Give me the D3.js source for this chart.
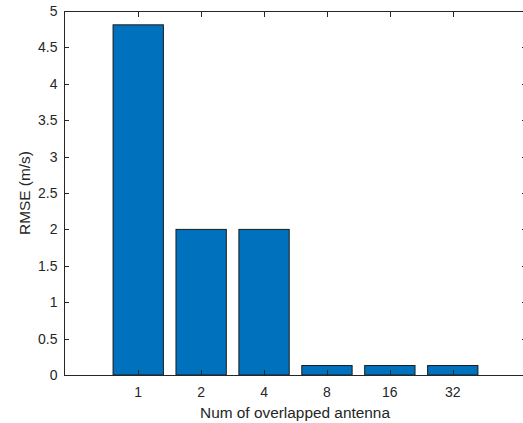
<!DOCTYPE html>
<html>
<head>
<meta charset="utf-8">
<script src="https://cdn.jsdelivr.net/npm/d3@7"></script>
<style>
  body { margin: 0; background: #fff; }
  svg text { font-family: "Liberation Sans", Arial, sans-serif; fill: #262626; }
</style>
</head>
<body>
<svg id="chart" width="523" height="423"></svg>
<script>
// data
var categories = ["1", "2", "4", "8", "16", "32"];
var rmseValues = [4.81, 2.0, 2.0, 0.13, 0.13, 0.13];
var yTicks = [0, 0.5, 1, 1.5, 2, 2.5, 3, 3.5, 4, 4.5, 5];

var meta = {};
meta.left = 64;
meta.right = 527;   // axes box runs past the right side of the picture
meta.top = 11;
meta.bottom = 375;

var svg = d3.select("#chart");

// bar positions 1..6, with MATLAB-like limits
var xScale = d3.scaleLinear()
    .domain([-0.18, 7.18])
    .range([meta.left, meta.right]);

var yScale = d3.scaleLinear()
    .domain([0, 5])
    .range([meta.bottom, meta.top]);

var barWidth = xScale(0.8) - xScale(0);

var data = categories.map((c, i) => ({ key: c, pos: i + 1, value: rmseValues[i] }));

svg.append("g")
    .selectAll("rect")
    .data(data)
    .enter()
    .append("rect")
    .attr("x", d => xScale(d.pos) - barWidth / 2)
    .attr("y", d => yScale(d.value))
    .attr("width", barWidth)
    .attr("height", d => yScale(0) - yScale(d.value))
    .attr("fill", "#0072BD")
    .attr("stroke", "#1a1a1a")
    .attr("stroke-width", 1);

// box
var axisColor = "#262626";
svg.append("rect")
    .attr("x", meta.left + 0.5)
    .attr("y", meta.top + 0.5)
    .attr("width", meta.right - meta.left)
    .attr("height", meta.bottom - meta.top)
    .attr("fill", "none")
    .attr("stroke", axisColor)
    .attr("stroke-width", 1);

// inward ticks, MATLAB style
var tickLen = 5;
var xTickG = svg.append("g");
data.forEach(d => {
    var x = Math.round(xScale(d.pos)) + 0.5;
    xTickG.append("line")
        .attr("x1", x).attr("x2", x)
        .attr("y1", meta.bottom).attr("y2", meta.bottom - tickLen)
        .attr("stroke", axisColor);
    xTickG.append("line")
        .attr("x1", x).attr("x2", x)
        .attr("y1", meta.top + 1).attr("y2", meta.top + 1 + tickLen)
        .attr("stroke", axisColor);
    xTickG.append("text")
        .attr("x", xScale(d.pos))
        .attr("y", meta.bottom + 22)
        .attr("text-anchor", "middle")
        .attr("font-size", "14px")
        .text(d.key);
});

var yTickG = svg.append("g");
yTicks.forEach(t => {
    var y = Math.round(yScale(t)) + 0.5;
    yTickG.append("line")
        .attr("x1", meta.left).attr("x2", meta.left + tickLen)
        .attr("y1", y).attr("y2", y)
        .attr("stroke", axisColor);
    yTickG.append("line")
        .attr("x1", meta.right).attr("x2", meta.right - tickLen)
        .attr("y1", y).attr("y2", y)
        .attr("stroke", axisColor);
    yTickG.append("text")
        .attr("x", meta.left - 6.5)
        .attr("y", yScale(t) + 5)
        .attr("text-anchor", "end")
        .attr("font-size", "14px")
        .text(t);
});

// axis titles
svg.append("text")
    .attr("x", 295)
    .attr("y", 418)
    .attr("text-anchor", "middle")
    .attr("font-size", "15.4px")
    .text("Num of overlapped antenna");

svg.append("text")
    .attr("transform", `translate(${29.5}, ${(meta.top + meta.bottom) / 2}) rotate(-90)`)
    .attr("text-anchor", "middle")
    .attr("font-size", "15.4px")
    .text("RMSE (m/s)");
</script>
</body>
</html>
